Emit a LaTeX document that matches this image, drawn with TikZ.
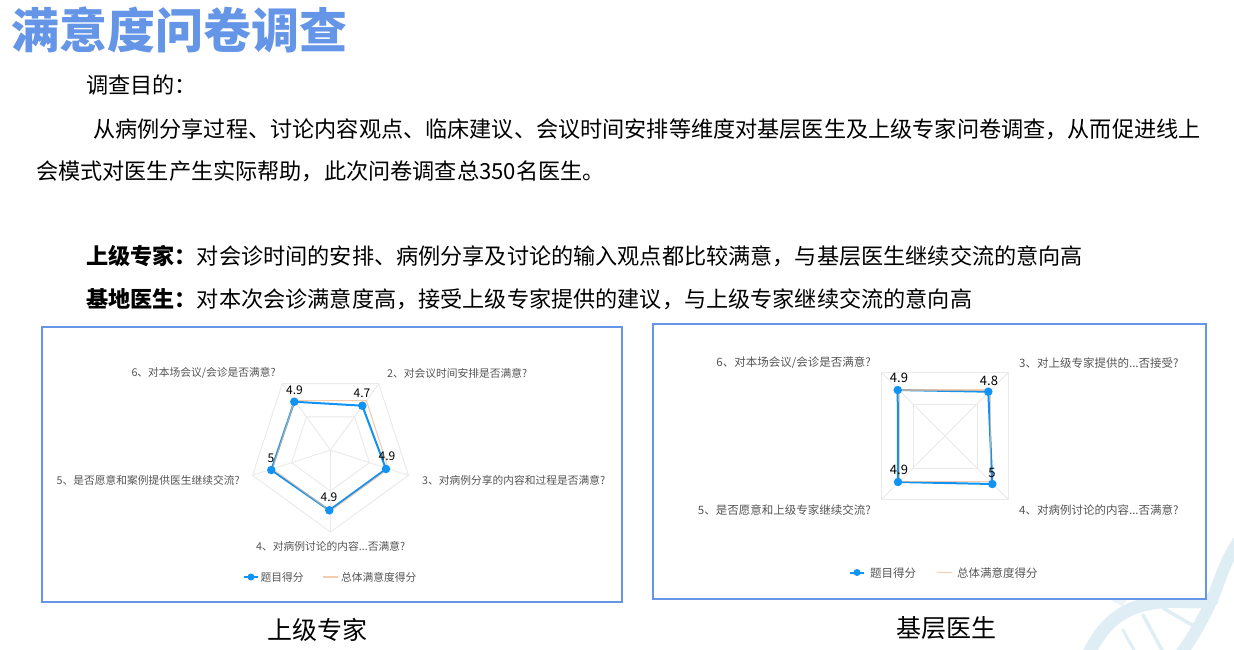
\documentclass[tikz,border=0pt]{standalone}
\usepackage{fontspec}
\setmainfont{Noto Sans CJK SC}
\definecolor{titleblue}{HTML}{6495E6}
\definecolor{scoreblue}{HTML}{1093F5}
\definecolor{totalorange}{HTML}{F2B98A}
\definecolor{gridgray}{HTML}{EAEAEA}
\definecolor{dnablue}{HTML}{DFEDF5}
\definecolor{labelgray}{HTML}{555555}
\pgfdeclarelayer{dots}
\pgfsetlayers{main,dots}
\begin{document}
\begin{tikzpicture}[
    x=1pt, y=-1pt,
    title/.style={anchor=base west, inner sep=0, text=titleblue, font=\fontsize{48}{52}\selectfont\bfseries},
    body/.style={anchor=base west, inner sep=0, font=\fontsize{22.15}{26}\selectfont},
    caption/.style={anchor=base, inner sep=0, font=\fontsize{25}{30}\selectfont},
    chartbox/.style={draw=titleblue, line width=2pt, fill=white},
    gridline/.style={draw=gridgray, line width=0.9pt},
    scoreline/.style={draw=scoreblue, line width=2pt, line join=round},
    totalline/.style={draw=totalorange, line width=1.1pt, opacity=.7, line join=round},
    dot/.style={circle, fill=scoreblue, inner sep=0, minimum size=8.5pt},
    axislabel/.style={inner sep=0, text=labelgray},
    value/.style={inner sep=0, anchor=base},
    strand/.style={draw=dnablue, line cap=round},
]
    % Page
    \path[use as bounding box] (0,0) rectangle (1234,649);

    % DNA behind the second chart
    \draw[strand, line width=3pt] (1123,630) -- (1135,652);
    \draw[strand, line width=3.5pt] (1143,615) -- (1163,652);
    \draw[strand, line width=3.5pt] (1163,608) -- (1197,628);
    \draw[strand, line width=13pt] (1088,655) .. controls (1105,620) and (1125,606) .. (1160,602) .. controls (1180,600) and (1195,604) .. (1212,600);
    \draw[strand, line width=12pt] (1180,655) .. controls (1198,630) and (1208,610) .. (1217,587) .. controls (1223,570) and (1229,555) .. (1238,542);
    \fill[dnablue!60] (1105,597) -- (1130,597) -- (1122,606) -- cycle;

    % Heading and text
    \node[title] (heading) at (11,48) {满意度问卷调查};
    \node[body] (aim) at (86,93) {调查目的：};
    \node[body] (aimA) at (93,137) {从病例分享过程、讨论内容观点、临床建议、会议时间安排等维度对基层医生及上级专家问卷调查，从而促进线上};
    \node[body] (aimB) at (36,179) {会模式对医生产生实际帮助，此次问卷调查总350名医生。};
    \node[body] (expert) at (86,264) {\textbf{上级专家：}对会诊时间的安排、病例分享及讨论的输入观点都比较满意，与基层医生继续交流的意向高};
    \node[body] (doctor) at (86,307) {\textbf{基地医生：}对本次会诊满意度高，接受上级专家提供的建议，与上级专家继续交流的意向高};

    % Chart boxes
    \draw[chartbox] (41.5,327) rectangle (622,602);
    \draw[chartbox] (653,324) rectangle (1206,599);

    % Pentagon grid
    \begin{scope}[shift={(330.5,450)}]
        \foreach \ang in {54,126,198,270,342}
            \draw[gridline] (0,0) -- (\ang:82pt);
        \draw[gridline] (54:82pt) -- (126:82pt) -- (198:82pt) -- (270:82pt) -- (342:82pt) -- cycle;
        \draw[gridline] (54:41pt) -- (126:41pt) -- (198:41pt) -- (270:41pt) -- (342:41pt) -- cycle;
    \end{scope}

    % Pentagon data
    \begin{pgfonlayer}{dots}
        \node[dot] (sA) at (294.3,401.7) {};
        \node[dot] (sB) at (362.3,405.7) {};
        \node[dot] (sC) at (386,469) {};
        \node[dot] (sD) at (329.3,510.3) {};
        \node[dot] (sE) at (271.3,470) {};
    \end{pgfonlayer}
    \coordinate (tA) at (294.6,400.6);
    \coordinate (tB) at (366.4,400.6);
    \coordinate (tC) at (388.5,468.9);
    \coordinate (tD) at (330.5,511);
    \coordinate (tE) at (272.5,468.9);
    \draw[scoreline] (sA.center) -- (sB.center) -- (sC.center) -- (sD.center) -- (sE.center) -- cycle;
    \draw[totalline] (tA) -- (tB) -- (tC) -- (tD) -- (tE) -- cycle;
    \begin{pgfonlayer}{dots}
        \node[value, font=\fontsize{12}{14}\selectfont] (vA) at (294.5,394) {4.9};
        \node[value, font=\fontsize{12}{14}\selectfont] (vB) at (362,397) {4.7};
        \node[value, font=\fontsize{12}{14}\selectfont] (vC) at (387,460) {4.9};
        \node[value, font=\fontsize{12}{14}\selectfont] (vD) at (329,501) {4.9};
        \node[value, font=\fontsize{12}{14}\selectfont] (vE) at (271,462) {5};
    \end{pgfonlayer}

    % Pentagon labels
    \begin{scope}[every node/.append style={font=\fontsize{10.75}{13}\selectfont}]
        \node[axislabel, anchor=east] (aA) at (276,373) {6、对本场会议/会诊是否满意?};
        \node[axislabel, anchor=west] (aB) at (387,373) {2、对会议时间安排是否满意?};
        \node[axislabel, anchor=west] (aC) at (422,480) {3、对病例分享的内容和过程是否满意?};
        \node[axislabel, anchor=west] (aD) at (256,546.5) {4、对病例讨论的内容...否满意?};
        \node[axislabel, anchor=east] (aE) at (240,480) {5、是否愿意和案例提供医生继续交流?};

        % Pentagon legend
        \node[dot, minimum size=7pt] (kA) at (251,577) {};
        \coordinate (kAl) at (244,577);
        \coordinate (kAr) at (258,577);
        \draw[scoreline] (kAl) -- (kAr);
        \node[axislabel, anchor=west] (kAt) at (260.5,577) {题目得分};
        \coordinate (kBl) at (323,577);
        \coordinate (kBr) at (338,577);
        \draw[totalline] (kBl) -- (kBr);
        \node[axislabel, anchor=west] (kBt) at (341,577) {总体满意度得分};
    \end{scope}

    % Square grid
    \begin{scope}[shift={(945,436)}]
        \draw[gridline] (-63.5,-63.5) -- (63.5,63.5);
        \draw[gridline] (-63.5,63.5) -- (63.5,-63.5);
        \draw[gridline] (-63.5,-63.5) rectangle (63.5,63.5);
        \draw[gridline] (-32,-32) rectangle (32,32);
    \end{scope}

    % Square data
    \begin{pgfonlayer}{dots}
        \node[dot] (qA) at (897.7,390) {};
        \node[dot] (qB) at (988.3,391.7) {};
        \node[dot] (qC) at (992.3,484) {};
        \node[dot] (qD) at (898,482) {};
    \end{pgfonlayer}
    \coordinate (rA) at (899.3,390);
    \coordinate (rB) at (990.7,390);
    \coordinate (rC) at (990.7,481.7);
    \coordinate (rD) at (899.3,481.7);
    \draw[scoreline] (qA.center) -- (qB.center) -- (qC.center) -- (qD.center) -- cycle;
    \draw[totalline] (rA) -- (rB) -- (rC) -- (rD) -- cycle;
    \begin{pgfonlayer}{dots}
        \node[value, font=\fontsize{13}{15}\selectfont] (wA) at (899,382) {4.9};
        \node[value, font=\fontsize{13}{15}\selectfont] (wB) at (989,385) {4.8};
        \node[value, font=\fontsize{13}{15}\selectfont] (wC) at (992,477) {5};
        \node[value, font=\fontsize{13}{15}\selectfont] (wD) at (899,474) {4.9};
    \end{pgfonlayer}

    % Square labels
    \begin{scope}[every node/.append style={font=\fontsize{11.5}{14}\selectfont}]
        \node[axislabel, anchor=east] (bA) at (871,363) {6、对本场会议/会诊是否满意?};
        \node[axislabel, anchor=west] (bB) at (1019,363) {3、对上级专家提供的...否接受?};
        \node[axislabel, anchor=west] (bC) at (1019,510) {4、对病例讨论的内容...否满意?};
        \node[axislabel, anchor=east] (bD) at (871,510) {5、是否愿意和上级专家继续交流?};

        % Square legend
        \node[dot, minimum size=7pt] (mA) at (857,572.5) {};
        \coordinate (mAl) at (850,572.5);
        \coordinate (mAr) at (864,572.5);
        \draw[scoreline] (mAl) -- (mAr);
        \node[axislabel, anchor=west] (mAt) at (870,573) {题目得分};
        \coordinate (mBl) at (937,572.5);
        \coordinate (mBr) at (952,572.5);
        \draw[totalline] (mBl) -- (mBr);
        \node[axislabel, anchor=west] (mBt) at (957,573) {总体满意度得分};
    \end{scope}

    % Captions
    \node[caption] (capA) at (317,639) {上级专家};
    \node[caption] (capB) at (946.5,637) {基层医生};
\end{tikzpicture}
\end{document}
